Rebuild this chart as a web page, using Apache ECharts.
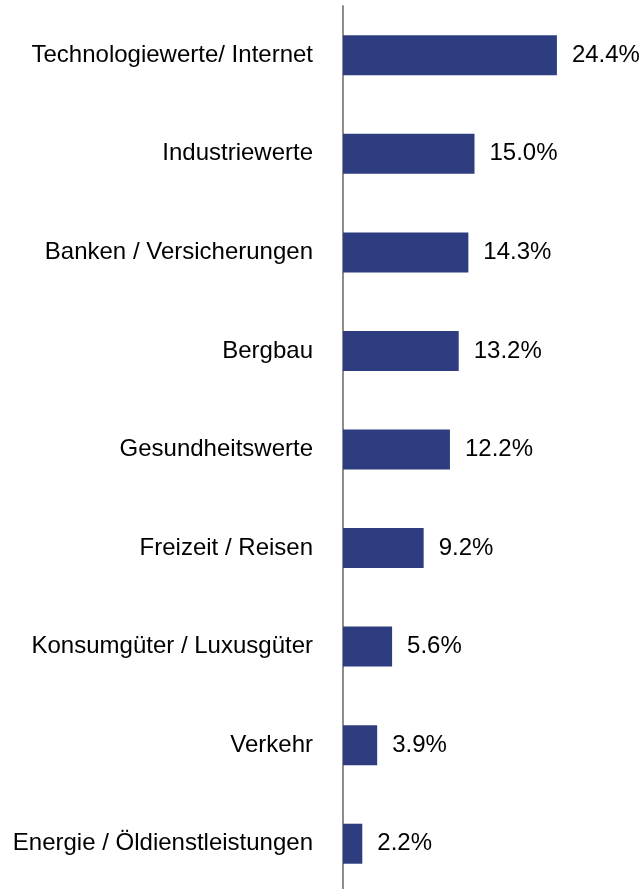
<!DOCTYPE html>
<html><head><meta charset="utf-8">
<script src="https://cdn.jsdelivr.net/npm/echarts@6/dist/echarts.min.js"></script>
<style>html,body{margin:0;padding:0;background:#fff;overflow:hidden}#c{width:643px;height:900px}</style>
</head><body><div id="c"></div>
<script>
const categories = ["Technologiewerte/ Internet","Industriewerte","Banken / Versicherungen","Bergbau","Gesundheitswerte","Freizeit / Reisen","Konsumgüter / Luxusgüter","Verkehr","Energie / Öldienstleistungen"];
const values = [24.4,15.0,14.3,13.2,12.2,9.2,5.6,3.9,2.2];
const chart = echarts.init(document.getElementById('c'), null, {renderer:'canvas'});
chart.setOption({
  animation:false,
  grid:{left:343,top:6,width:263,height:887,containLabel:false},
  xAxis:{type:'value',min:0,max:30,show:false},
  yAxis:{type:'category',data:categories,inverse:true,
    axisLine:{show:true,lineStyle:{color:'#8c8c8c',width:2}},
    axisTick:{show:false},
    axisLabel:{margin:30,color:'#000',fontFamily:'Liberation Sans, Arial',fontSize:24}},
  series:[{type:'bar',data:values,barWidth:'40.6%',
    itemStyle:{color:'#2e3d80'},
    label:{show:true,position:'right',distance:15,color:'#000',fontFamily:'Liberation Sans, Arial',fontSize:24,
      formatter:p=>p.value.toFixed(1)+'%'}}]
});
</script></body></html>
